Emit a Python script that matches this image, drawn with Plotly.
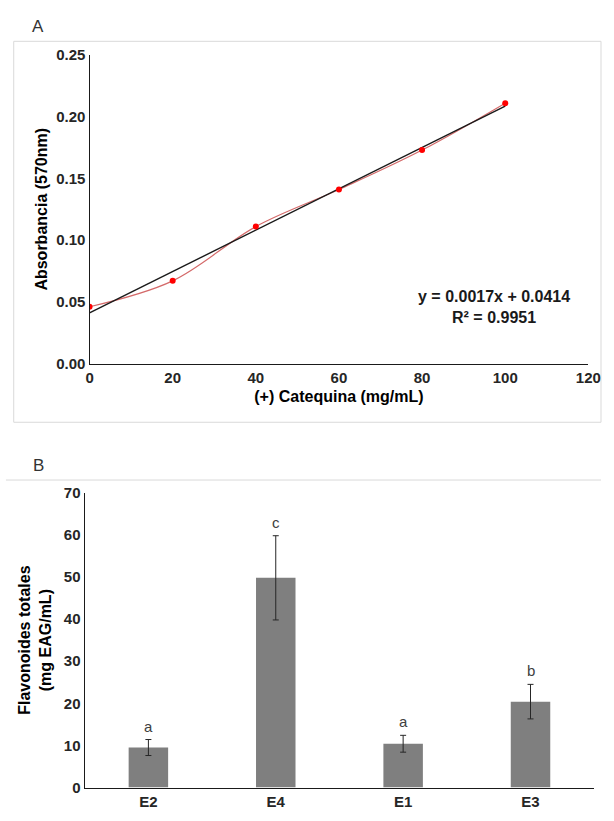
import numpy as np
import plotly.graph_objects as go

W, H = 614, 821

# ---- Panel A data ----
conc = [0, 20, 40, 60, 80, 100]
absorb = [0.046, 0.067, 0.111, 0.141, 0.173, 0.211]
eq_text = "y = 0.0017x + 0.0414<br>R² = 0.9951"

# ---- Panel B data ----
extracts = ["E2", "E4", "E1", "E3"]
flav = [9.5, 49.8, 10.4, 20.4]
flav_err = [1.9, 10.0, 2.0, 4.1]
letters = ["a", "c", "a", "b"]

FONT = "Liberation Sans, Arial, sans-serif"

def px(x):
    return x / W

def py(y):
    return 1 - y / H

slope, intercept = np.polyfit(conc, absorb, 1)
fit_x = [min(conc), max(conc)]
fit_y = [slope * v + intercept for v in fit_x]

fig = go.Figure()

fig.add_trace(go.Scatter(x=conc, y=absorb, mode="lines",
                         line=dict(color="#d46a6a", width=1.2, shape="spline", smoothing=1),
                         xaxis="x", yaxis="y", showlegend=False, hoverinfo="skip"))
fig.add_trace(go.Scatter(x=fit_x, y=fit_y, mode="lines",
                         line=dict(color="#1a1a1a", width=1.4),
                         xaxis="x", yaxis="y", showlegend=False))
fig.add_trace(go.Scatter(x=conc, y=absorb, mode="markers",
                         marker=dict(color="#ff0000", size=6),
                         xaxis="x", yaxis="y", showlegend=False))

fig.add_trace(go.Bar(x=extracts, y=flav, width=0.31,
                     marker=dict(color="#7f7f7f", line=dict(width=0)),
                     error_y=dict(type="data", array=flav_err, visible=True,
                                  color="#262626", thickness=1, width=3),
                     xaxis="x2", yaxis="y2", showlegend=False))

tickfont = dict(family=FONT, size=15, color="#262626", weight="bold")
titlefont = dict(family=FONT, size=16, color="#000000", weight="bold")

fig.update_layout(
    width=W, height=H,
    margin=dict(l=0, r=0, t=0, b=0),
    paper_bgcolor="white", plot_bgcolor="white",
    font=dict(family=FONT),
    xaxis=dict(domain=[px(88), px(601)], range=[0, 120], tickvals=[0, 20, 40, 60, 80, 100, 120],
               showline=True, linecolor="#1a1a1a", linewidth=1.4, showgrid=False, zeroline=False,
               ticks="", tickfont=tickfont, anchor="y",
               title=dict(text="(+) Catequina (mg/mL)", font=titlefont, standoff=6)),
    yaxis=dict(domain=[py(362), py(47)], range=[0, 0.25], tickvals=[0, 0.05, 0.1, 0.15, 0.2, 0.25],
               tickformat=".2f",
               showline=True, linecolor="#1a1a1a", linewidth=1.4, showgrid=False, zeroline=False,
               ticks="", tickfont=tickfont, anchor="x",
               title=dict(text="Absorbancia (570nm)", font=titlefont, standoff=4)),
    xaxis2=dict(domain=[px(83), px(607)], range=[-0.5, 3.5],
                showline=True, linecolor="#1a1a1a", linewidth=1.4, showgrid=False, zeroline=False,
                ticks="", tickfont=tickfont, anchor="y2"),
    yaxis2=dict(domain=[py(795), py(494)], range=[0, 70], tickvals=[0, 10, 20, 30, 40, 50, 60, 70],
                showline=True, linecolor="#1a1a1a", linewidth=1.4, showgrid=False, zeroline=False,
                ticks="", tickfont=tickfont, anchor="x2",
                title=dict(text="Flavonoides totales<br>(mg EAG/mL)", font=titlefont, standoff=8)),
)

# panel frames
fig.add_shape(type="rect", xref="paper", yref="paper",
              x0=px(10), x1=1.0, y0=py(422), y1=py(33),
              line=dict(color="#d9d9d9", width=1), layer="below")
fig.add_shape(type="line", xref="paper", yref="paper",
              x0=px(2), x1=1.0, y0=py(481), y1=py(481),
              line=dict(color="#d9d9d9", width=1), layer="below")

# panel letters
fig.add_annotation(text="A", xref="paper", yref="paper", x=px(35), y=py(18),
                   xanchor="center", yanchor="middle",
                   showarrow=False, font=dict(family=FONT, size=17, color="#333333"))
fig.add_annotation(text="B", xref="paper", yref="paper", x=px(35), y=py(466),
                   xanchor="center", yanchor="middle",
                   showarrow=False, font=dict(family=FONT, size=17, color="#333333"))

# regression equation
fig.add_annotation(text=eq_text, xref="paper", yref="paper",
                   x=px(504), y=py(304), xanchor="center", yanchor="middle",
                   showarrow=False, align="center",
                   font=dict(family=FONT, size=16, color="#1a1a1a", weight="bold"))

# significance letters
for cat, v, e, lt in zip(extracts, flav, flav_err, letters):
    fig.add_annotation(text=lt, x=cat, y=v + e, xref="x2", yref="y2",
                       yanchor="bottom", yshift=3, showarrow=False,
                       font=dict(family=FONT, size=15, color="#404040"))

fig.write_html("out.html", config={"displayModeBar": False},
               post_script="document.body.style.margin='0px';document.body.style.overflow='hidden';")
